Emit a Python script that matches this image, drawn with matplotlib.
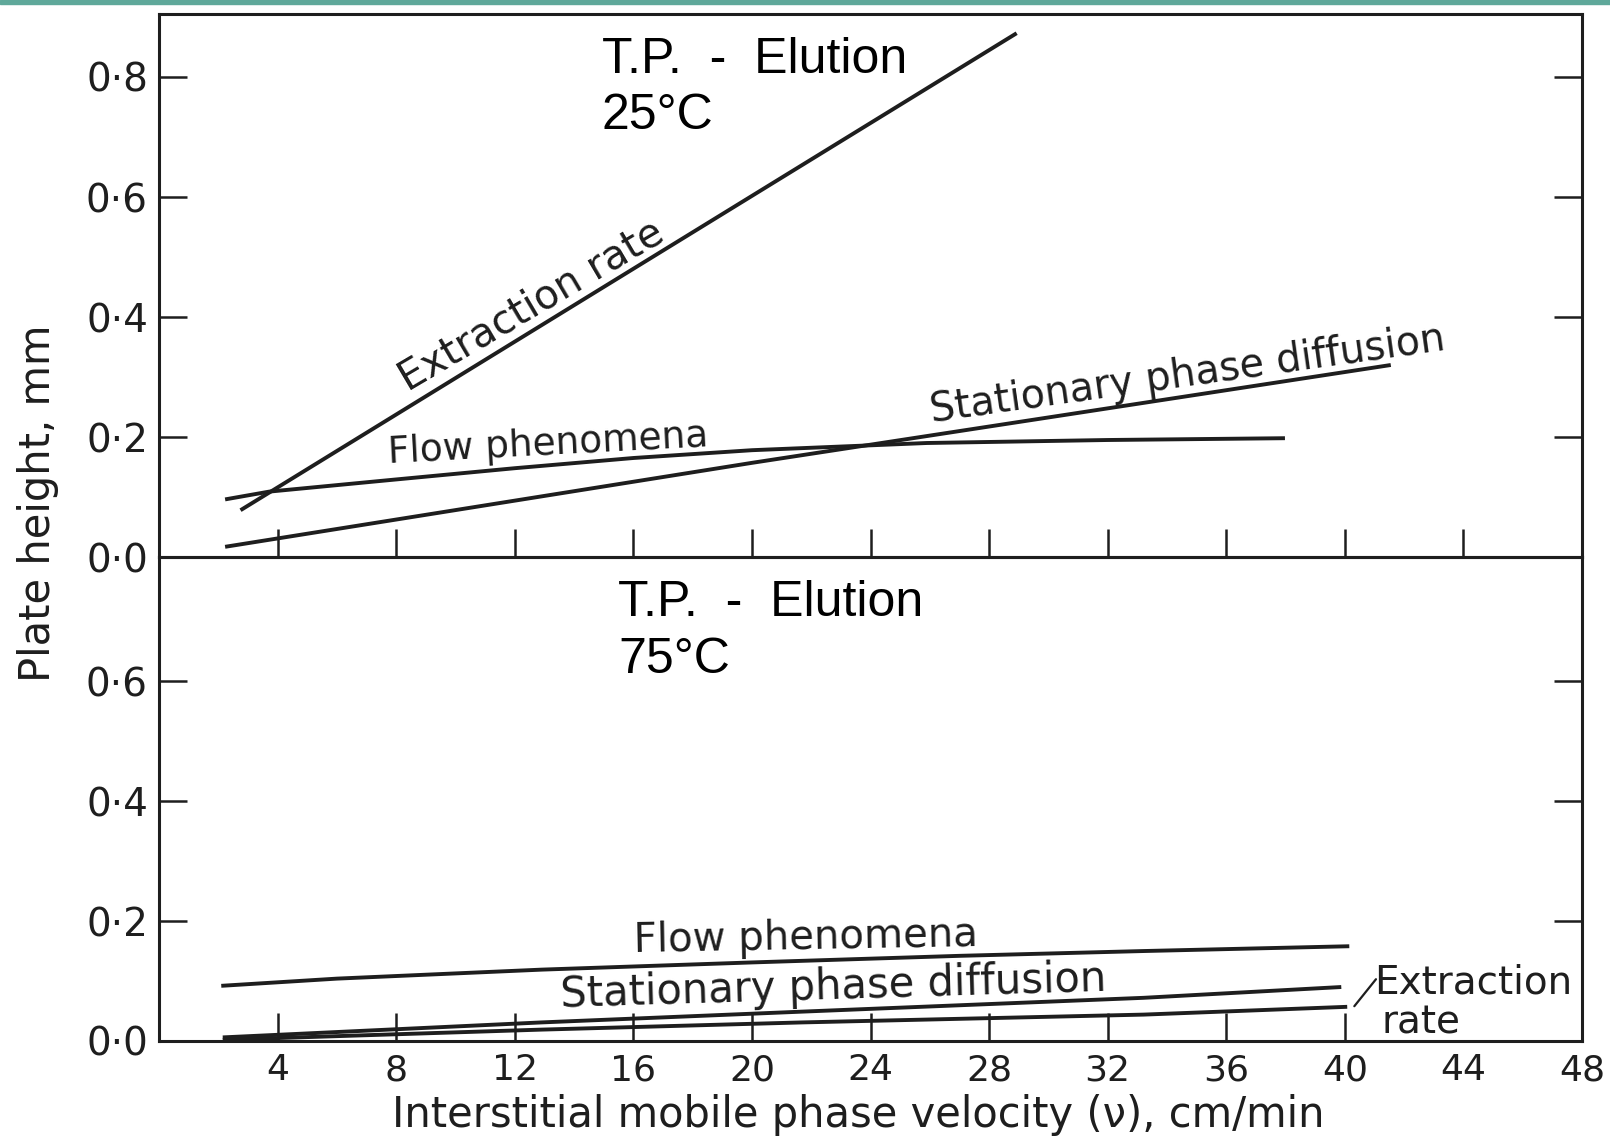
import matplotlib
matplotlib.use("Agg")
import matplotlib.pyplot as plt
from matplotlib.patches import Rectangle

# ---------------- data ----------------
x_tick_values = [4, 8, 12, 16, 20, 24, 28, 32, 36, 40, 44, 48]
x_tick_labels = ["4", "8", "12", "16", "20", "24", "28", "32", "36", "40", "44", "48"]
top_y_ticks = [0.0, 0.2, 0.4, 0.6, 0.8]
top_y_labels = ["0·0", "0·2", "0·4", "0·6", "0·8"]
bottom_y_ticks = [0.0, 0.2, 0.4, 0.6]
bottom_y_labels = ["0·0", "0·2", "0·4", "0·6"]

# T.P. - Elution, 25 °C
ext25_x = [2.75, 28.93]
ext25_y = [0.078, 0.873]
flow25_x = [2.23, 3.72, 7.73, 12.0, 16.0, 20.0, 25.9, 32.0, 37.98]
flow25_y = [0.096, 0.109, 0.128, 0.148, 0.165, 0.178, 0.190, 0.195, 0.198]
stat25_x = [2.23, 20.01, 41.55]
stat25_y = [0.017, 0.157, 0.320]

# T.P. - Elution, 75 °C
flow75_x = [2.10, 6.0, 12.91, 20.0, 27.0, 33.21, 40.15]
flow75_y = [0.092, 0.104, 0.119, 0.131, 0.142, 0.150, 0.158]
stat75_x = [2.15, 12.91, 21.71, 33.21, 39.88]
stat75_y = [0.006, 0.031, 0.049, 0.072, 0.090]
ext75_x = [2.15, 12.91, 21.71, 33.21, 40.08]
ext75_y = [0.002, 0.019, 0.031, 0.044, 0.057]

# ---------------- style ----------------
plt.rcParams["font.family"] = ["DejaVu Sans"]
DARK = "#1e1e1e"
LW = 2.8

fig = plt.figure(figsize=(16.1, 11.38), dpi=100)
fig.patch.set_facecolor("white")
fig.patches.append(Rectangle((0, 1 - 3.5 / 1138), 1, 3.5 / 1138,
                             transform=fig.transFigure, color="#5fa89a", zorder=10))

ax1 = fig.add_axes([0.09876, 0.51054, 0.88385, 0.47716])
ax2 = fig.add_axes([0.09876, 0.08524, 0.88385, 0.42530])

for ax in (ax1, ax2):
    ax.set_xlim(0, 48)
    for sp in ax.spines.values():
        sp.set_linewidth(2.2)
        sp.set_color(DARK)
    ax.set_facecolor("none")

ax1.set_ylim(0, 0.905)
ax2.set_ylim(0, 0.807)

# ticks top panel
ax1.set_xticks(x_tick_values[:-1])
ax1.tick_params(axis="x", direction="in", length=20, width=1.8, color=DARK,
                bottom=True, top=False, labelbottom=False)
ax1.set_yticks(top_y_ticks)
ax1.set_yticklabels(top_y_labels)
ax1.tick_params(axis="y", direction="in", length=20, width=1.8, color=DARK,
                left=True, right=True, labelsize=28, pad=8, labelcolor=DARK)

# ticks bottom panel
ax2.set_xticks(x_tick_values)
ax2.set_xticklabels(x_tick_labels)
ax2.tick_params(axis="x", direction="in", length=20, width=1.8, color=DARK,
                bottom=True, top=False, labelsize=26, pad=9, labelcolor=DARK)
for t in ax2.xaxis.get_major_ticks()[-2:]:
    t.tick1line.set_visible(False)
ax2.set_yticks(bottom_y_ticks)
ax2.set_yticklabels(bottom_y_labels)
ax2.tick_params(axis="y", direction="in", length=20, width=1.8, color=DARK,
                left=True, right=True, labelsize=28, pad=8, labelcolor=DARK)

# curves
kw = dict(color=DARK, lw=LW, solid_capstyle="butt", solid_joinstyle="round", clip_on=False)
ax1.plot(ext25_x, ext25_y, **kw)
ax1.plot(flow25_x, flow25_y, **kw)
ax1.plot(stat25_x, stat25_y, **kw)
ax2.plot(flow75_x, flow75_y, **kw)
ax2.plot(stat75_x, stat75_y, **kw)
ax2.plot(ext75_x, ext75_y, **kw)

# curve labels
lab = dict(fontsize=28, color=DARK, ha="center", va="baseline", rotation_mode="anchor")
ax1.text(12.74, 0.402, "Extraction rate", rotation=30.5, **dict(lab, fontsize=29))
ax1.text(13.15, 0.171, "Flow phenomena", rotation=3, **dict(lab, fontsize=27))
ax1.text(34.75, 0.285, "Stationary phase diffusion", rotation=8, **dict(lab, fontsize=28.5))
ax2.text(21.81, 0.1535, "Flow phenomena", rotation=1, **dict(lab, fontsize=29))
ax2.text(22.77, 0.0707, "Stationary phase diffusion", rotation=1.7, **dict(lab, fontsize=30))

ax2.annotate("", xy=(40.32, 0.058), xytext=(41.05, 0.103),
             arrowprops=dict(arrowstyle="-", lw=1.6, color=DARK,
                             shrinkA=0, shrinkB=0), annotation_clip=False)
ax2.text(41.0, 0.079, "Extraction", fontsize=28, color=DARK, ha="left", va="baseline")
ax2.text(41.25, 0.012, "rate", fontsize=28, color=DARK, ha="left", va="baseline")

# panel titles
tp = dict(fontsize=36, color="black", ha="left", va="baseline",
          family=["Liberation Sans", "DejaVu Sans"])
ax1.text(14.94, 0.806, "T.P.  -  Elution", **tp)
ax1.text(14.94, 0.713, "25°C", **tp)
ax2.text(15.48, 0.709, "T.P.  -  Elution", **tp)
ax2.text(15.48, 0.614, "75°C", **tp)

# axis labels
fig.text(38 / 1610, 1 - 503 / 1138, "Plate height, mm", rotation=90,
         fontsize=30, color=DARK, ha="center", va="center")
fig.text(858 / 1610, 1 - 1115 / 1138, "Interstitial mobile phase velocity (ν), cm/min",
         fontsize=30, color=DARK, ha="center", va="center")

fig.savefig("out.png", dpi=100)
